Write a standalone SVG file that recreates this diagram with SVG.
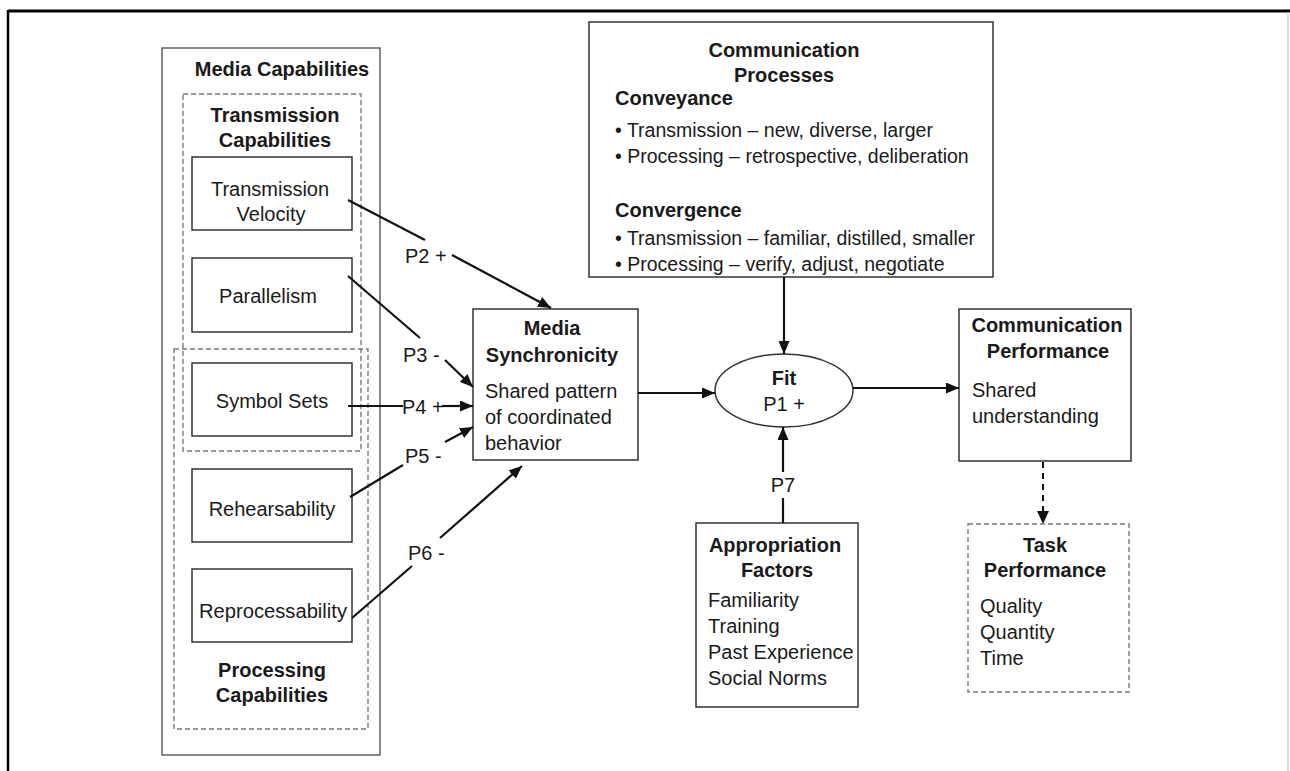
<svg xmlns="http://www.w3.org/2000/svg" width="1290" height="771" viewBox="0 0 1290 771">
<defs>
<marker id="ah" markerUnits="userSpaceOnUse" markerWidth="13" markerHeight="11" refX="13" refY="5.5" orient="auto">
<path d="M0,0 L13,5.5 L0,11 z" fill="#111"/>
</marker>
<style>
text{font-family:"Liberation Sans",Arial,Helvetica,sans-serif;font-size:20px;fill:#1a1a1a}
.b{font-weight:bold}
.m{text-anchor:middle}
.s{font-size:19.5px}
.box{fill:#fff;stroke:#333;stroke-width:1.5}
.dash{fill:none;stroke:#7a7a7a;stroke-width:1.4;stroke-dasharray:5 3}
.ln{stroke:#111;stroke-width:2.2;fill:none}
.arr{stroke:#111;stroke-width:2.2;fill:none;marker-end:url(#ah)}
</style>
</defs>
<rect x="0" y="0" width="1290" height="771" fill="#fff"/>
<g id="frame">
<line x1="8" y1="11" x2="1290" y2="11" stroke="#000" stroke-width="3"/>
<line x1="8" y1="10" x2="8" y2="771" stroke="#000" stroke-width="2.5"/>
<line x1="1288" y1="12" x2="1288" y2="771" stroke="#ccc" stroke-width="1.5"/>
</g>
<g id="media-capabilities">
<rect x="162" y="48" width="218" height="707" fill="none" stroke="#555" stroke-width="1.4"/>
<text class="b m" x="282" y="76">Media Capabilities</text>
</g>
<g id="transmission-capabilities">
<rect class="dash" x="183" y="94" width="178" height="357"/>
<text class="b m" x="275" y="122">Transmission</text>
<text class="b m" x="275" y="147">Capabilities</text>
</g>
<g id="processing-capabilities">
<rect class="dash" x="174" y="349" width="194" height="380"/>
<text class="b m" x="272" y="677">Processing</text>
<text class="b m" x="272" y="702">Capabilities</text>
</g>
<g id="transmission-velocity">
<rect class="box" x="192" y="157" width="160" height="73"/>
<text class="m" x="270" y="196">Transmission</text>
<text class="m" x="271" y="221">Velocity</text>
</g>
<g id="parallelism">
<rect class="box" x="192" y="258" width="160" height="74"/>
<text class="m" x="268" y="303">Parallelism</text>
</g>
<g id="symbol-sets">
<rect class="box" x="192" y="363" width="160" height="73"/>
<text class="m" x="272" y="408">Symbol Sets</text>
</g>
<g id="rehearsability">
<rect class="box" x="192" y="469" width="160" height="73"/>
<text class="m" x="272" y="516">Rehearsability</text>
</g>
<g id="reprocessability">
<rect class="box" x="192" y="569" width="160" height="73"/>
<text class="m" x="273" y="618" textLength="148" lengthAdjust="spacingAndGlyphs">Reprocessability</text>
</g>
<g id="media-synchronicity">
<rect class="box" x="473" y="309" width="165" height="151"/>
<text class="b m" x="552" y="335">Media</text>
<text class="b m" x="552" y="362">Synchronicity</text>
<text x="485" y="398">Shared pattern</text>
<text x="485" y="424">of coordinated</text>
<text x="485" y="450">behavior</text>
</g>
<g id="communication-processes">
<rect class="box" x="589" y="22" width="404" height="255"/>
<text class="b m" x="784" y="57">Communication</text>
<text class="b m" x="784" y="82">Processes</text>
<text class="b" x="615" y="105">Conveyance</text>
<text class="s" x="615" y="137">• Transmission – new, diverse, larger</text>
<text class="s" x="615" y="163">• Processing – retrospective, deliberation</text>
<text class="b" x="615" y="217">Convergence</text>
<text class="s" x="615" y="245">• Transmission – familiar, distilled, smaller</text>
<text class="s" x="615" y="271">• Processing – verify, adjust, negotiate</text>
</g>
<g id="fit">
<ellipse cx="784" cy="390.5" rx="69" ry="36.5" fill="#fff" stroke="#333" stroke-width="1.5"/>
<text class="b m" x="784" y="385">Fit</text>
<text class="m" x="784" y="411">P1 +</text>
</g>
<g id="communication-performance">
<rect class="box" x="959" y="309" width="172" height="152"/>
<text class="b m" x="1047" y="332">Communication</text>
<text class="b m" x="1048" y="358">Performance</text>
<text x="972" y="397">Shared</text>
<text x="972" y="423">understanding</text>
</g>
<g id="task-performance">
<rect class="dash" x="968" y="524" width="161" height="168"/>
<text class="b m" x="1045" y="552">Task</text>
<text class="b m" x="1045" y="577">Performance</text>
<text x="980" y="613">Quality</text>
<text x="980" y="639">Quantity</text>
<text x="980" y="665">Time</text>
</g>
<g id="appropriation-factors">
<rect class="box" x="696" y="523" width="162" height="184"/>
<text class="b m" x="775" y="552">Appropriation</text>
<text class="b m" x="777" y="577">Factors</text>
<text x="708" y="607">Familiarity</text>
<text x="708" y="633">Training</text>
<text x="708" y="659">Past Experience</text>
<text x="708" y="685">Social Norms</text>
</g>
<g id="connectors">
<line class="ln" x1="348" y1="200" x2="425" y2="240"/>
<line class="arr" x1="452" y1="255" x2="551" y2="308"/>
<text x="405" y="263">P2 +</text>
<line class="ln" x1="348" y1="276" x2="420" y2="338"/>
<line class="arr" x1="445" y1="360" x2="473" y2="387"/>
<text x="403" y="362">P3 -</text>
<line class="ln" x1="348" y1="406" x2="403" y2="406"/>
<line class="arr" x1="442" y1="406" x2="473" y2="406"/>
<text x="402" y="414">P4 +</text>
<line class="ln" x1="350" y1="497" x2="403" y2="465"/>
<line class="arr" x1="445" y1="442" x2="473" y2="427"/>
<text x="405" y="463">P5 -</text>
<line class="ln" x1="352" y1="618" x2="412" y2="566"/>
<line class="arr" x1="440" y1="538" x2="522" y2="466"/>
<text x="408" y="560">P6 -</text>
<line class="arr" x1="638" y1="393" x2="715" y2="393"/>
<line class="arr" x1="784" y1="277" x2="784" y2="354"/>
<line class="arr" x1="853" y1="388" x2="959" y2="388"/>
<line class="ln" x1="783" y1="523" x2="783" y2="498"/>
<line class="arr" x1="783" y1="472" x2="783" y2="427"/>
<text class="m" x="783" y="492">P7</text>
<line x1="1043" y1="462" x2="1043" y2="512" stroke="#111" stroke-width="2" stroke-dasharray="6 5"/>
<path d="M1037,511 L1049,511 L1043,524 z" fill="#111"/>
</g>
</svg>
